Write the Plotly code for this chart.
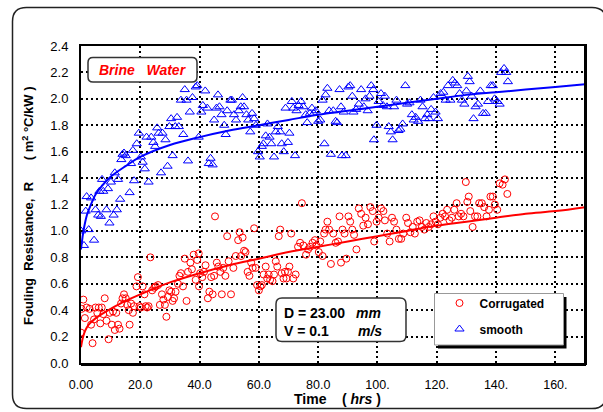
import plotly.graph_objects as go

# ---------------- data ----------------
smooth_pts = [
    (0.0, 1.00), (1.0, 0.89), (1.6, 1.15), (1.9, 1.26), (2.6, 1.01), (3.4, 1.25), (4.4, 0.93), (4.9, 1.16),
    (5.8, 1.12), (6.2, 1.30), (6.7, 1.11), (7.1, 1.39), (7.5, 1.30), (8.6, 1.16), (9.1, 1.32), (9.6, 1.06),
    (10.1, 1.37), (11.0, 1.12), (11.4, 1.44), (12.1, 1.16), (12.5, 1.39), (13.2, 1.24), (13.6, 1.54), (14.0, 1.58),
    (14.5, 1.59), (15.1, 1.57), (16.4, 1.29), (16.9, 1.51), (17.5, 1.61), (17.9, 1.38), (18.8, 1.66), (19.5, 1.74),
    (20.2, 1.56), (20.8, 1.52), (21.5, 1.47), (22.1, 1.71), (22.8, 1.37), (23.7, 1.71), (24.4, 1.67), (25.0, 1.64),
    (25.7, 1.78), (26.2, 1.74), (27.0, 1.44), (27.5, 1.74), (28.5, 1.69), (29.2, 1.49), (29.8, 1.79), (30.4, 1.85),
    (30.9, 1.57), (31.8, 1.79), (32.4, 1.86), (33.0, 1.79), (33.7, 1.99), (34.5, 1.73), (35.0, 2.07), (35.6, 1.99),
    (36.1, 1.53), (36.7, 1.90), (37.6, 2.01), (38.7, 2.09), (39.2, 2.10), (39.7, 1.71), (40.6, 1.90), (41.1, 1.95),
    (41.9, 2.06), (42.6, 1.93), (43.1, 1.51), (43.7, 1.55), (44.4, 1.50), (44.9, 1.84), (45.7, 1.93), (46.2, 2.03),
    (46.7, 1.94), (47.4, 1.88), (48.3, 1.80), (48.8, 1.73), (49.3, 1.91), (50.4, 1.99), (50.9, 1.99), (51.6, 1.88),
    (52.3, 1.84), (53.2, 1.91), (53.9, 1.94), (54.5, 2.01), (55.0, 1.94), (55.8, 1.88), (56.4, 1.84), (57.1, 1.75),
    (57.7, 1.89), (58.4, 1.85), (59.0, 1.80), (59.7, 1.60), (60.3, 1.56), (61.0, 1.64), (61.5, 1.66), (62.3, 1.72),
    (62.9, 1.81), (63.6, 1.71), (64.2, 1.66), (65.1, 1.56), (65.7, 1.75), (66.4, 1.79), (67.2, 1.75), (67.7, 1.66),
    (68.4, 1.60), (69.0, 1.93), (69.8, 1.67), (70.3, 1.74), (71.1, 1.98), (71.6, 1.93), (72.2, 1.57), (72.7, 1.91),
    (73.4, 1.95), (74.2, 1.98), (75.0, 1.94), (75.8, 1.88), (76.3, 1.82), (77.2, 1.89), (77.9, 1.93), (78.5, 1.89),
    (79.2, 1.91), (80.0, 1.83), (80.7, 1.84), (81.5, 1.99), (82.1, 1.66), (82.5, 2.03), (83.1, 2.08), (83.7, 1.91),
    (84.3, 1.58), (85.1, 1.91), (85.9, 1.83), (86.4, 1.82), (87.2, 2.07), (87.7, 1.94), (88.0, 1.57), (88.6, 1.90),
    (89.3, 1.57), (90.2, 2.09), (90.8, 2.10), (91.5, 2.02), (91.9, 1.90), (92.8, 1.92), (93.7, 1.96), (94.5, 2.07),
    (95.4, 1.94), (96.0, 2.00), (96.7, 1.91), (97.3, 2.02), (97.9, 2.10), (98.6, 2.07), (98.8, 1.69), (99.7, 1.80),
    (100.4, 1.98), (101.2, 2.04), (101.9, 1.95), (102.5, 2.02), (103.2, 1.94), (103.8, 1.79), (104.5, 1.75), (105.1, 1.69),
    (105.6, 1.94), (106.4, 1.99), (107.1, 1.76), (107.7, 1.77), (108.5, 1.81), (109.4, 2.10), (110.0, 1.96), (110.8, 1.97),
    (111.6, 1.88), (112.2, 1.84), (112.9, 1.86), (113.7, 1.83), (114.5, 1.99), (115.2, 1.94), (116.0, 1.85), (116.8, 1.88),
    (117.4, 1.85), (118.1, 1.92), (118.9, 2.01), (119.6, 1.90), (120.4, 1.85), (121.3, 2.04), (122.2, 2.05), (123.0, 1.99),
    (123.8, 2.10), (124.6, 1.99), (125.4, 2.14), (126.1, 2.12), (126.9, 2.10), (127.7, 2.04), (128.5, 1.99), (129.3, 1.96),
    (130.0, 2.06), (130.5, 2.17), (131.1, 2.13), (131.8, 2.02), (132.4, 1.85), (133.1, 1.94), (133.9, 1.96), (134.7, 2.06),
    (135.6, 1.89), (136.5, 1.89), (137.3, 1.98), (138.2, 2.10), (138.9, 2.10), (139.5, 2.00), (140.4, 1.98), (141.2, 1.96),
    (141.7, 2.20), (142.7, 2.23), (143.4, 2.20), (144.0, 2.13),
]

corrugated_pts = [
    (0.0, 0.23), (0.2, 0.41), (0.8, 0.48), (1.3, 0.34), (1.9, 0.42), (2.9, 0.41), (3.4, 0.29), (3.9, 0.15),
    (4.4, 0.33), (4.9, 0.42), (5.5, 0.38), (6.0, 0.42), (6.5, 0.30), (7.0, 0.42), (7.5, 0.37), (8.0, 0.49),
    (8.6, 0.32), (9.3, 0.18), (9.7, 0.38), (10.4, 0.29), (10.8, 0.39), (11.4, 0.25), (11.9, 0.38), (12.5, 0.29),
    (13.0, 0.26), (13.5, 0.45), (14.0, 0.49), (14.5, 0.52), (15.1, 0.49), (15.6, 0.44), (16.1, 0.40), (16.4, 0.29),
    (16.9, 0.45), (17.5, 0.38), (17.9, 0.43), (18.7, 0.58), (19.2, 0.65), (19.7, 0.43), (20.2, 0.42), (20.8, 0.58),
    (21.4, 0.52), (21.8, 0.43), (22.3, 0.42), (22.8, 0.43), (23.4, 0.80), (24.0, 0.55), (24.7, 0.57), (25.2, 0.58),
    (26.0, 0.59), (26.6, 0.44), (27.3, 0.52), (27.8, 0.48), (28.3, 0.44), (28.8, 0.35), (29.3, 0.50), (29.8, 0.55),
    (30.4, 0.54), (30.9, 0.47), (31.4, 0.49), (31.9, 0.54), (32.7, 0.60), (33.2, 0.66), (33.7, 0.68), (34.4, 0.58),
    (35.0, 0.79), (35.6, 0.47), (36.1, 0.69), (36.9, 0.76), (37.4, 0.71), (38.0, 0.82), (38.7, 0.63), (39.2, 0.78),
    (39.7, 0.83), (39.8, 0.58), (40.2, 0.68), (40.9, 0.65), (41.5, 0.69), (42.0, 0.74), (42.8, 0.49), (43.3, 0.54),
    (43.9, 0.65), (44.4, 0.52), (44.9, 0.66), (45.2, 1.11), (45.8, 0.76), (46.3, 0.73), (47.0, 0.69), (47.5, 0.52),
    (48.0, 0.72), (48.7, 0.66), (49.3, 0.96), (49.8, 0.77), (50.6, 0.52), (51.4, 0.72), (52.2, 0.81), (53.0, 0.93),
    (53.5, 0.99), (54.0, 0.81), (54.5, 0.95), (55.0, 0.85), (55.5, 0.84), (56.2, 0.69), (56.8, 0.66), (57.4, 0.76),
    (57.9, 0.72), (58.4, 1.02), (58.9, 0.72), (59.4, 0.59), (60.0, 0.55), (60.5, 0.58), (61.0, 0.59), (61.6, 0.67),
    (62.3, 0.73), (62.8, 0.64), (63.3, 0.67), (63.8, 0.63), (64.6, 0.62), (65.1, 0.67), (65.7, 0.77), (66.2, 0.73),
    (66.7, 0.96), (67.2, 1.01), (67.7, 0.68), (68.3, 0.64), (68.8, 0.69), (69.3, 0.64), (69.8, 0.69), (70.3, 0.73),
    (70.9, 0.98), (71.6, 0.64), (72.4, 0.67), (73.2, 0.88), (73.9, 0.91), (74.5, 1.21), (75.0, 0.89), (75.9, 0.82),
    (76.6, 0.86), (77.3, 0.88), (78.1, 0.91), (78.9, 0.93), (79.4, 0.89), (80.2, 0.84), (80.7, 0.92), (81.5, 0.81),
    (82.0, 0.98), (82.5, 1.01), (83.1, 1.07), (83.7, 1.01), (84.3, 0.75), (85.1, 0.98), (85.9, 0.91), (86.7, 0.92),
    (87.2, 1.11), (87.7, 0.76), (88.2, 1.01), (88.9, 0.98), (89.5, 0.79), (90.2, 1.11), (90.8, 1.07), (91.5, 1.01),
    (92.1, 0.97), (92.9, 0.86), (93.7, 1.17), (94.5, 1.13), (95.2, 1.04), (96.0, 1.10), (96.8, 1.05), (97.6, 1.18),
    (98.4, 1.15), (98.9, 0.92), (99.7, 1.07), (100.4, 1.10), (101.2, 1.17), (102.0, 1.15), (102.5, 1.08), (103.3, 0.98),
    (104.1, 0.92), (104.9, 1.10), (105.6, 1.07), (106.4, 1.01), (107.2, 0.94), (108.0, 0.94), (108.7, 0.98), (109.7, 1.10),
    (110.3, 1.06), (111.1, 0.99), (111.9, 1.03), (112.6, 0.98), (113.4, 1.07), (114.2, 1.08), (115.0, 1.03), (115.8, 1.01),
    (116.5, 1.06), (117.3, 1.03), (118.1, 1.05), (118.9, 1.11), (119.6, 1.07), (120.4, 1.05), (121.2, 1.10), (122.0, 1.13),
    (122.8, 1.11), (123.5, 1.16), (124.3, 1.08), (125.1, 1.10), (125.9, 1.16), (126.7, 1.21), (127.4, 1.11), (128.2, 1.13),
    (129.0, 1.11), (129.8, 1.37), (130.3, 1.22), (130.8, 1.26), (131.3, 1.15), (132.1, 1.03), (132.9, 1.11), (133.7, 1.11),
    (134.3, 1.21), (135.2, 1.21), (136.0, 1.18), (136.8, 1.11), (137.6, 1.16), (138.1, 1.26), (138.9, 1.26), (139.6, 1.20),
    (140.4, 1.16), (141.2, 1.36), (142.2, 1.35), (143.0, 1.39), (143.8, 1.28),
]

# fitted curves
smooth_fit_t = [0, 0.5, 1, 2, 3, 5, 7, 10, 15, 20, 30, 40, 50, 60, 70, 80, 90, 100, 110, 120, 130, 140, 150, 160, 170]
smooth_fit_r = [0.86, 0.95, 1.02, 1.12, 1.18, 1.28, 1.34, 1.41, 1.49, 1.56, 1.65, 1.71, 1.76, 1.80, 1.84, 1.88, 1.91,
                1.94, 1.97, 2.00, 2.03, 2.05, 2.07, 2.09, 2.11]
corr_fit_t = [0, 0.5, 1, 2, 3, 5, 7, 10, 15, 20, 30, 40, 50, 60, 70, 80, 90, 100, 110, 120, 130, 140, 150, 160, 170]
corr_fit_r = [0.12, 0.18, 0.22, 0.27, 0.30, 0.34, 0.37, 0.41, 0.47, 0.52, 0.61, 0.68, 0.74, 0.79, 0.84, 0.88, 0.92,
              0.96, 1.00, 1.04, 1.07, 1.10, 1.13, 1.15, 1.18]

x_tick_vals = [0, 20, 40, 60, 80, 100, 120, 140, 160]
x_tick_text = ["0.00", "20.0", "40.0", "60.0", "80.0", "100.", "120.", "140.", "160."]
y_tick_vals = [0.0, 0.2, 0.4, 0.6, 0.8, 1.0, 1.2, 1.4, 1.6, 1.8, 2.0, 2.2, 2.4]
y_tick_text = ["%.1f" % v for v in y_tick_vals]

# ---------------- layout helpers ----------------
W, H = 603, 412
ML, MR, MT, MB = 81, 18, 46, 49
PW, PH = W - ML - MR, H - MT - MB
FONT = "Arial, Liberation Sans, sans-serif"


def px(x):
    return (x - ML) / PW


def py(y):
    return (H - MB - y) / PH


def rrect(x0, y0, x1, y1, r):
    pts = []

    def P(x, y):
        return "%.5f,%.5f" % (px(x), py(y))

    pts.append("M" + P(x0 + r, y0))
    pts.append("L" + P(x1 - r, y0))
    pts.append("Q" + P(x1, y0) + " " + P(x1, y0 + r))
    pts.append("L" + P(x1, y1 - r))
    pts.append("Q" + P(x1, y1) + " " + P(x1 - r, y1))
    pts.append("L" + P(x0 + r, y1))
    pts.append("Q" + P(x0, y1) + " " + P(x0, y1 - r))
    pts.append("L" + P(x0, y0 + r))
    pts.append("Q" + P(x0, y0) + " " + P(x0 + r, y0))
    return " ".join(pts) + " Z"


fig = go.Figure()

fig.add_trace(go.Scatter(
    x=corr_fit_t, y=corr_fit_r, mode="lines", line=dict(color="#ff0000", width=2, shape="spline"),
    showlegend=False, hoverinfo="skip"))
fig.add_trace(go.Scatter(
    x=smooth_fit_t, y=smooth_fit_r, mode="lines", line=dict(color="#0000ff", width=2, shape="spline"),
    showlegend=False, hoverinfo="skip"))

fig.add_trace(go.Scatter(
    x=[p[0] for p in corrugated_pts], y=[p[1] for p in corrugated_pts], mode="markers",
    name="<b>Corrugated</b>", legendgroup="a",
    marker=dict(symbol="circle-open", size=7, color="#ff0000", line=dict(width=1, color="#ff0000"))))
fig.add_trace(go.Scatter(
    x=[p[0] for p in smooth_pts], y=[p[1] for p in smooth_pts], mode="markers",
    name="<b>smooth</b>", legendgroup="b",
    marker=dict(symbol="triangle-up-open", size=8, color="#0000ff", line=dict(width=1, color="#0000ff"))))

shapes = []
# outer rounded frame
shapes.append(dict(type="path", xref="paper", yref="paper", path=rrect(12.5, 7.5, 606, 408.5, 14),
                   line=dict(color="#222222", width=1.5), fillcolor="rgba(0,0,0,0)", layer="below"))
# plot frame shadow (thicker bottom / right)
shapes.append(dict(type="line", xref="paper", yref="paper", x0=px(81), x1=px(586), y0=py(364.5), y1=py(364.5),
                   line=dict(color="black", width=3)))
shapes.append(dict(type="line", xref="paper", yref="paper", x0=px(585.5), x1=px(585.5), y0=py(46), y1=py(365),
                   line=dict(color="black", width=3)))
# Brine Water box
shapes.append(dict(type="path", xref="paper", yref="paper", path=rrect(88, 57.5, 197, 82, 5),
                   line=dict(color="#333333", width=1.5), fillcolor="white"))
# D / V box
shapes.append(dict(type="path", xref="paper", yref="paper", path=rrect(276, 298, 406, 341.5, 6),
                   line=dict(color="#333333", width=1.5), fillcolor="white"))
# legend box with shadow
shapes.append(dict(type="rect", xref="paper", yref="paper", x0=px(438), x1=px(566.5), y0=py(348.5), y1=py(297),
                   line=dict(width=0), fillcolor="black"))
shapes.append(dict(type="rect", xref="paper", yref="paper", x0=px(434.5), x1=px(563.5), y0=py(345), y1=py(293.5),
                   line=dict(color="#999999", width=1), fillcolor="white"))

annotations = [
    dict(text="<b><i>Brine\u00a0\u00a0\u00a0Water</i></b>", x=px(142.5), y=py(70), xref="paper", yref="paper",
         showarrow=False, font=dict(family=FONT, size=14, color="#ff0000"), xanchor="center", yanchor="middle"),
    dict(text="<b>D = 23.00</b>", x=px(282), y=py(312.5), xref="paper", yref="paper", showarrow=False,
         font=dict(family=FONT, size=14, color="black"), xanchor="left", yanchor="middle"),
    dict(text="<b><i>mm</i></b>", x=px(354), y=py(312.5), xref="paper", yref="paper", showarrow=False,
         font=dict(family=FONT, size=14, color="black"), xanchor="left", yanchor="middle"),
    dict(text="<b>V = 0.1</b>", x=px(282), y=py(331), xref="paper", yref="paper", showarrow=False,
         font=dict(family=FONT, size=14, color="black"), xanchor="left", yanchor="middle"),
    dict(text="<b><i>m/s</i></b>", x=px(356), y=py(331), xref="paper", yref="paper", showarrow=False,
         font=dict(family=FONT, size=14, color="black"), xanchor="left", yanchor="middle"),
    dict(text="<b>Time\u00a0\u00a0\u00a0\u00a0( <i>hrs</i> )</b>", x=px(337), y=py(398.5), xref="paper",
         yref="paper", showarrow=False, font=dict(family=FONT, size=14, color="black"),
         xanchor="center", yanchor="middle"),
    dict(text="<b>Fouling\u00a0 Resistance,\u00a0 R\u00a0\u00a0\u00a0\u00a0\u00a0 ( m<sup>2</sup> \u00b0C/kW )</b>",
         x=px(28), y=py(206), xref="paper", yref="paper", showarrow=False, textangle=-90,
         font=dict(family=FONT, size=13, color="black"), xanchor="center", yanchor="middle"),
]

fig.update_layout(
    width=W, height=H, margin=dict(l=ML, r=MR, t=MT, b=MB, pad=0),
    paper_bgcolor="white", plot_bgcolor="white",
    font=dict(family=FONT, size=13, color="black"),
    shapes=shapes, annotations=annotations,
    showlegend=True,
    legend=dict(x=px(439.5), y=py(288.5), xanchor="left", yanchor="top", bgcolor="rgba(0,0,0,0)",
                borderwidth=0, font=dict(family=FONT, size=12, color="black"),
                traceorder="grouped", tracegroupgap=7, itemclick=False),
    xaxis=dict(range=[0, 170], tickvals=x_tick_vals, ticktext=x_tick_text, showgrid=True,
               gridcolor="black", gridwidth=2, griddash="2px,3px", zeroline=False,
               showline=True, linecolor="black", linewidth=2, mirror=True, ticks="",
               ticklabelstandoff=9, tickfont=dict(size=12.5)),
    yaxis=dict(range=[0, 2.4], tickvals=y_tick_vals, ticktext=y_tick_text, showgrid=True,
               gridcolor="black", gridwidth=2, griddash="2px,3px", zeroline=False,
               showline=True, linecolor="black", linewidth=2, mirror=True, ticks="",
               ticklabelstandoff=8, tickfont=dict(size=13)),
)

fig.write_html("out.html")
